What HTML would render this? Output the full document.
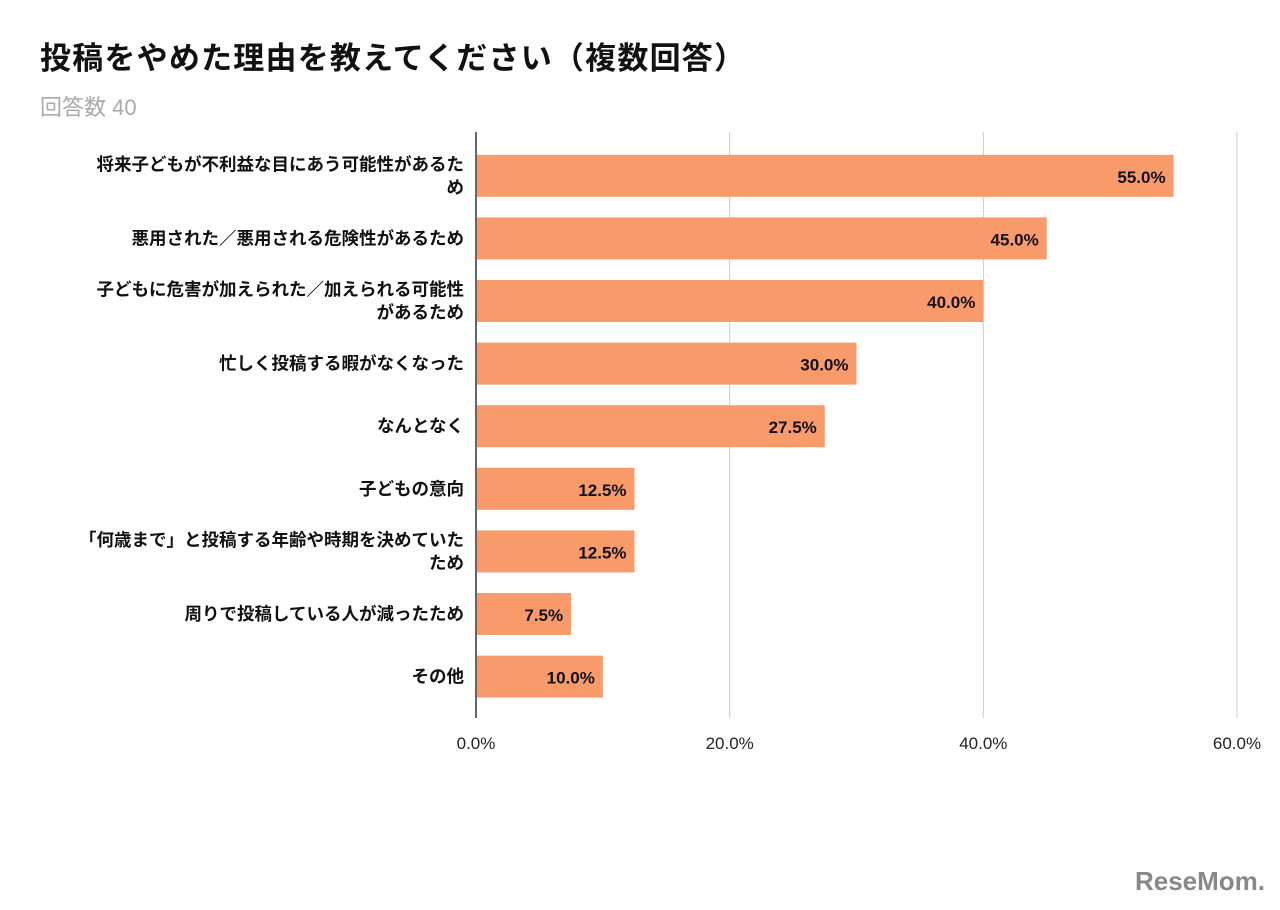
<!DOCTYPE html>
<html><head><meta charset="utf-8"><style>
body{margin:0;background:#fff;width:1280px;height:905px;overflow:hidden;font-family:"Liberation Sans","Noto Sans CJK JP",sans-serif}
svg text{font-family:"Liberation Sans","Noto Sans CJK JP",sans-serif}
</style></head><body>
<svg id="c" width="1280" height="905">
<text x="40" y="69" font-size="31" font-weight="bold" fill="#111" textLength="705">投稿をやめた理由を教えてください（複数回答）</text>
<text x="40" y="115" font-size="22" fill="#aaa">回答数 40</text>
<text x="1265" y="890" font-size="26" font-weight="bold" fill="#888" text-anchor="end">ReseMom.</text>
</svg>
<script>
const categories=[["将来子どもが不利益な目にあう可能性があるた","め"],["悪用された／悪用される危険性があるため"],["子どもに危害が加えられた／加えられる可能性","があるため"],["忙しく投稿する暇がなくなった"],["なんとなく"],["子どもの意向"],["「何歳まで」と投稿する年齢や時期を決めていた","ため"],["周りで投稿している人が減ったため"],["その他"]];
const values=[55.0,45.0,40.0,30.0,27.5,12.5,12.5,7.5,10.0];
const ticks=[0,20,40,60];
const svgEl=document.getElementById('c');
const NS='http://www.w3.org/2000/svg';
const X0=476,X1=1237,PTOP=132,STEP=62.6,BH=42;
const xs=v=>X0+(X1-X0)*v/60;
function el(t,a){const e=document.createElementNS(NS,t);for(const k in a)e.setAttribute(k,a[k]);svgEl.appendChild(e);return e;}
ticks.forEach(t=>{
 const g=el('line',{x1:xs(t),x2:xs(t),y1:PTOP,y2:718,stroke:t===0?'#333':'#ccc','stroke-width':t===0?1.5:1});
 
 
 const l=el('text',{x:xs(t),y:749,'font-size':17,'text-anchor':'middle',fill:'#222'});
 l.textContent=t.toFixed(1)+'%';
 
 
});
values.forEach((v,i)=>{
 const cy=PTOP+STEP*(i+0.7);
 const r=el('rect',{x:X0+1,y:cy-BH/2,width:xs(v)-X0-1,height:BH,fill:'#F99A6B'});
 
 
 const t=el('text',{x:xs(v)-8,y:cy+7,'font-size':17,'font-weight':'bold','text-anchor':'end',fill:'#111'});
 t.textContent=v.toFixed(1)+'%';
 
 
 const lines=categories[i];
 lines.forEach((s,j)=>{
  const y=cy+6+(j-(lines.length-1)/2)*23;
  const c=el('text',{x:464,y:y,'font-size':17.5,'font-weight':'bold','text-anchor':'end',fill:'#111'});
  c.textContent=s;
  
  
 });
});
</script>
</body></html>
